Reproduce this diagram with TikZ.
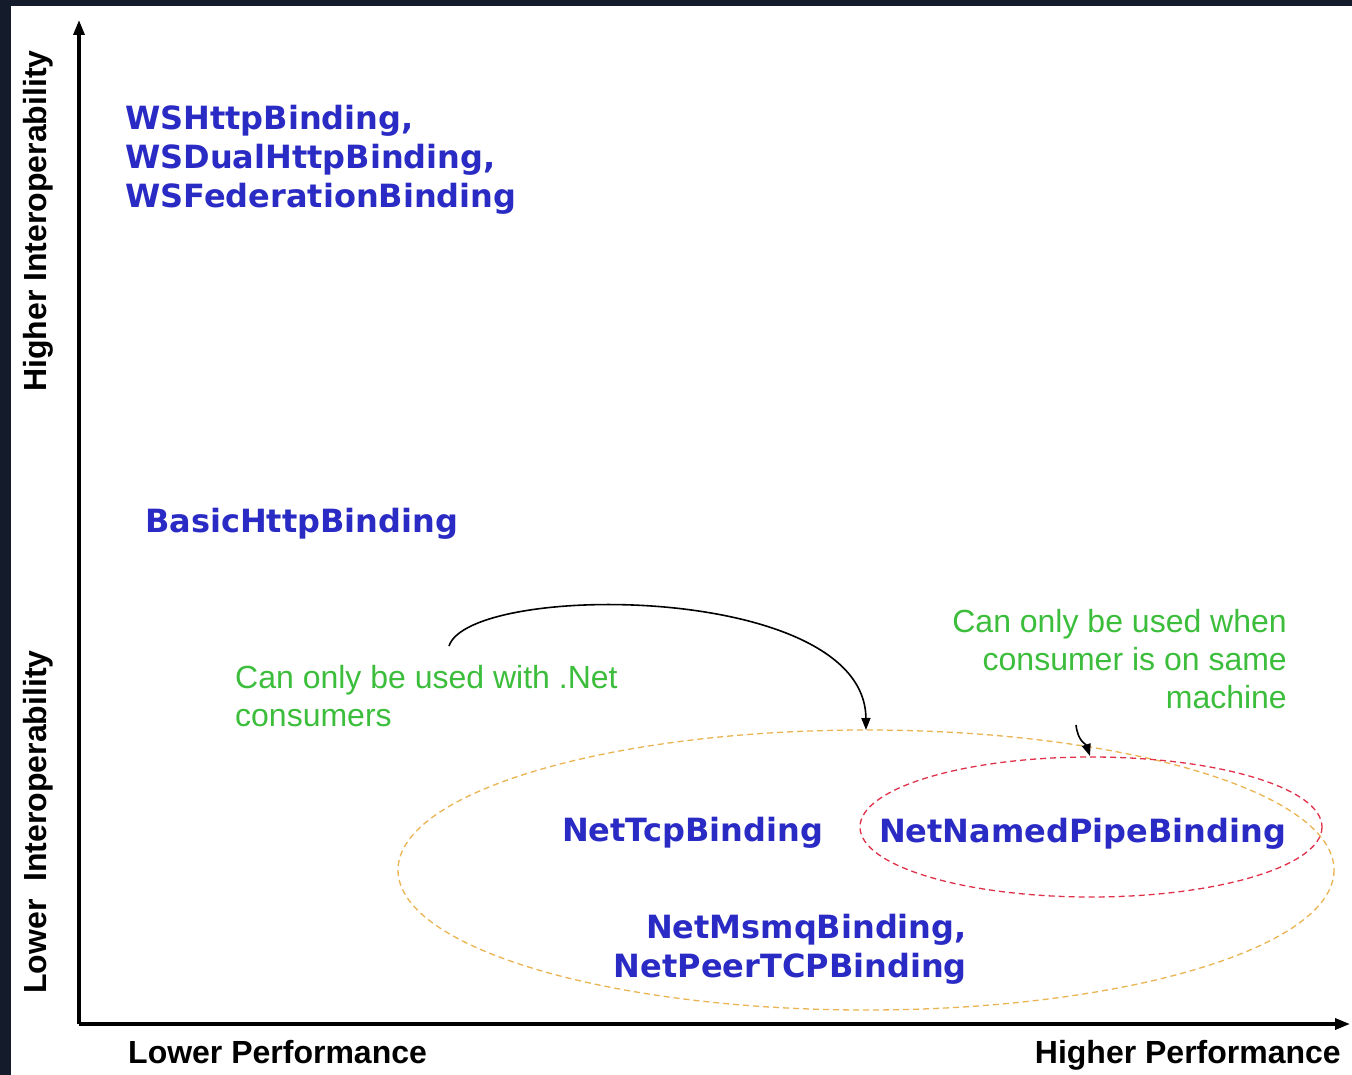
\documentclass[tikz,border=0pt]{standalone}
\usepackage{fontspec}
\setmainfont{Liberation Sans}
\newfontfamily\bindfont{DejaVu Sans}
\usetikzlibrary{arrows.meta}
\definecolor{frame}{HTML}{141C2C}
\definecolor{bindblue}{HTML}{2A2AC4}
\definecolor{notegreen}{HTML}{3CBE3C}
\definecolor{ovalorange}{HTML}{EBB452}
\definecolor{ovalred}{HTML}{E0304A}
\tikzset{
  binding/.style={font=\bindfont\bfseries\fontsize{32}{39}\selectfont, text=bindblue, inner sep=0pt},
  note/.style={font=\fontsize{32}{38}\selectfont, text=notegreen, inner sep=0pt},
  axislabel/.style={font=\bfseries\fontsize{32}{36}\selectfont, text=black, inner sep=0pt},
  axis/.style={line width=3.4pt, -{Triangle[length=15pt,width=11pt]}},
  pointer/.style={line width=1.6pt, -{Triangle[length=12pt,width=9pt]}},
}
\begin{document}
\begin{tikzpicture}[x=1pt,y=-1pt]
% page frame and white panel
\fill[frame] (0,0) rectangle (1352,1075);
\fill[white] (11,6) rectangle (1352,1075);
\useasboundingbox (0,0) rectangle (1352,1075);

% axes
\coordinate (origin) at (79,1024);
\coordinate (ytop) at (79,20);
\coordinate (xend) at (1350,1024);
\draw[axis] (origin) -- (ytop);
\draw[axis] (origin) -- (xend);

% axis labels
\node[axislabel, anchor=base west] (lowperf) at (128,1063) {Lower Performance};
\node[axislabel, anchor=base east] (highperf) at (1341,1063) {Higher Performance};
\node[axislabel, rotate=90] (highinter) at (38,221) {Higher Interoperability};
\node[axislabel, rotate=90] (lowinter) at (38,822) {Lower\ \ Interoperability};

% ellipses grouping the .Net-only bindings
\draw[ovalorange, line width=1.3pt, dash pattern=on 6pt off 4pt] (866,870) ellipse [x radius=468, y radius=140];
\draw[ovalred, line width=1.3pt, dash pattern=on 6pt off 4pt] (1091,827) ellipse [x radius=231, y radius=70];

% bindings
\node[binding, anchor=west, align=left] (ws) at (125,160) {WSHttpBinding,\\WSDualHttpBinding,\\WSFederationBinding};
\node[binding, anchor=west] (basic) at (145,524) {BasicHttpBinding};
\node[binding, anchor=west] (tcp) at (562,833) {NetTcpBinding};
\node[binding, anchor=west] (pipe) at (879,834) {NetNamedPipeBinding};
\node[binding, anchor=east, align=right] (msmq) at (967,949) {NetMsmqBinding,\\NetPeerTCPBinding};

% notes
\node[note, anchor=west, align=left] (netnote) at (235,696) {Can only be used with .Net\\consumers};
\node[note, anchor=east, align=right] (machnote) at (1287,659) {Can only be used when\\consumer is on same\\machine};

% pointers
\coordinate (netstart) at (449,646);
\coordinate (netend) at (866,730);
\draw[pointer] (netstart) .. controls (470,582) and (865,582) .. (netend);
\coordinate (machstart) at (1076,725);
\coordinate (machend) at (1090,756);
\draw[pointer] (machstart) .. controls (1078,742) and (1086,744) .. (machend);
\end{tikzpicture}
\end{document}
